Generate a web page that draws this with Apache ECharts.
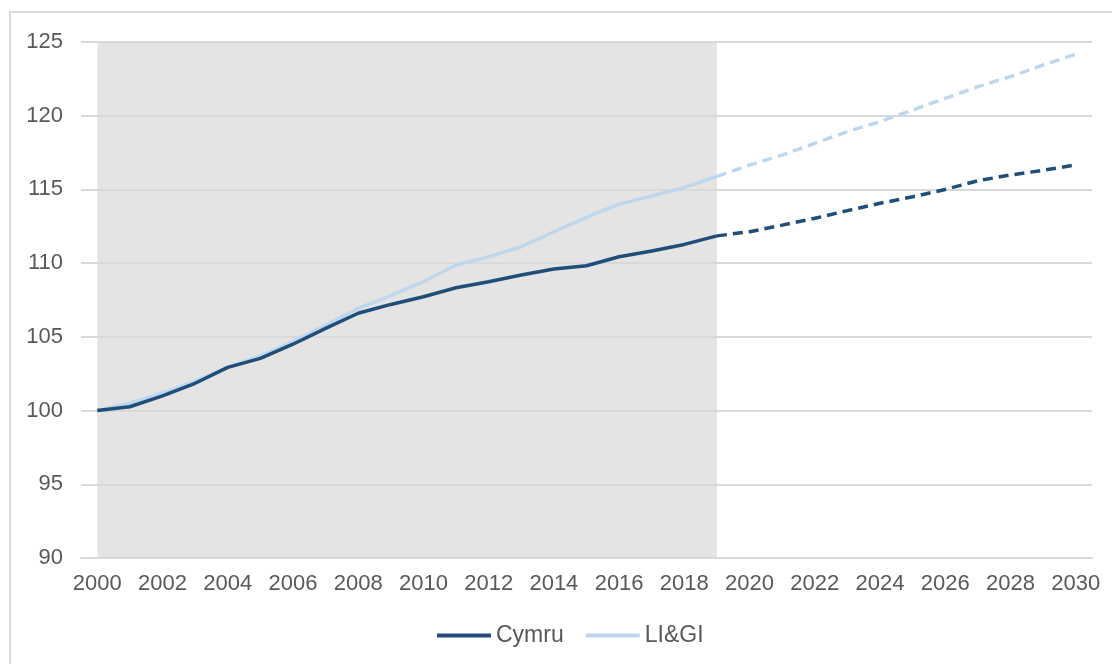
<!DOCTYPE html>
<html>
<head>
<meta charset="utf-8">
<script src="https://cdn.jsdelivr.net/npm/echarts@6/dist/echarts.min.js"></script>
<style>
html,body{margin:0;padding:0;background:#fff;}
#chart{width:1112px;height:664px;}
</style>
</head>
<body>
<div id="chart"></div>
<script>
var years = ['2000','2001','2002','2003','2004','2005','2006','2007','2008','2009','2010','2011','2012','2013','2014','2015','2016','2017','2018','2019','2020','2021','2022','2023','2024','2025','2026','2027','2028','2029','2030'];
var histYears = years.slice(0, 20);           // 2000-2019
var projYears = years.slice(19);              // 2019-2030
var cymruHist = [100.0, 100.26, 101.0, 101.85, 102.93, 103.54, 104.5, 105.58, 106.6, 107.2, 107.72, 108.33, 108.74, 109.19, 109.6, 109.82, 110.43, 110.82, 111.27, 111.85];
var ligiHist  = [100.0, 100.5, 101.2, 102.0, 102.93, 103.7, 104.7, 105.8, 106.93, 107.8, 108.74, 109.87, 110.43, 111.11, 112.13, 113.1, 114.0, 114.55, 115.14, 115.88];
var cymruProj = [111.85, 112.13, 112.58, 113.04, 113.56, 114.06, 114.5, 115.0, 115.59, 115.98, 116.3, 116.66];
var ligiProj  = [115.88, 116.66, 117.33, 118.13, 118.92, 119.6, 120.39, 121.18, 121.97, 122.65, 123.44, 124.17];
var yTicks = [90, 95, 100, 105, 110, 115, 120, 125];
var shadeRange = ['2000', '2019'];
var seriesNames = ['Cymru', 'LI&GI'];

function pad(arr, startYear) {
  var out = years.map(function () { return null; });
  var start = years.indexOf(startYear);
  arr.forEach(function (v, i) { out[start + i] = v; });
  return out;
}

var darkBlue = '#1f4e79';
var lightBlue = '#bdd7ee';
var textColor = '#595959';
var font = '"Liberation Sans", Arial, sans-serif';

var chart = echarts.init(document.getElementById('chart'), null, {renderer: 'canvas'});
chart.setOption({
  animation: false,
  backgroundColor: '#ffffff',
  textStyle: {fontFamily: font},
  graphic: [{
    type: 'rect',
    shape: {x: 10, y: 12, width: 1200, height: 800},
    style: {fill: 'none', stroke: '#d9d9d9', lineWidth: 2},
    silent: true,
    z: -10
  }],
  grid: {left: 81, right: 20, top: 42, bottom: 106, containLabel: false},
  legend: {
    data: seriesNames,
    bottom: 12,
    left: 432,
    icon: 'rect',
    itemWidth: 54,
    itemHeight: 4,
    itemGap: 22,
    textStyle: {color: textColor, fontSize: 23, fontFamily: font}
  },
  xAxis: {
    type: 'category',
    data: years,
    boundaryGap: true,
    axisTick: {show: false},
    axisLine: {show: true, lineStyle: {color: '#d9d9d9', width: 2}},
    axisLabel: {interval: 1, color: textColor, fontSize: 22, margin: 15, fontFamily: font},
    splitLine: {show: false}
  },
  yAxis: {
    type: 'value',
    min: yTicks[0],
    max: yTicks[yTicks.length - 1],
    interval: 5,
    z: 2,
    axisLine: {show: false},
    axisTick: {show: false},
    axisLabel: {color: textColor, fontSize: 22, margin: 18, fontFamily: font},
    splitLine: {show: true, lineStyle: {color: '#d9d9d9', width: 2}}
  },
  series: [
    {
      name: 'shade',
      type: 'line',
      z: 1,
      silent: true,
      symbol: 'none',
      data: years.map(function () { return null; }),
      markArea: {
        silent: true,
        itemStyle: {color: '#e4e4e4'},
        data: [[{xAxis: shadeRange[0]}, {xAxis: shadeRange[1]}]]
      }
    },
    {
      name: seriesNames[0],
      type: 'line',
      z: 4,
      symbol: 'none',
      color: darkBlue,
      lineStyle: {color: darkBlue, width: 3.5},
      data: pad(cymruHist, histYears[0])
    },
    {
      name: seriesNames[1],
      type: 'line',
      z: 3,
      symbol: 'none',
      color: lightBlue,
      lineStyle: {color: lightBlue, width: 3.5},
      data: pad(ligiHist, histYears[0])
    },
    {
      name: 'Cymru projection',
      type: 'line',
      z: 4,
      symbol: 'none',
      color: darkBlue,
      lineStyle: {color: darkBlue, width: 3.5, type: [10, 6]},
      data: pad(cymruProj, projYears[0])
    },
    {
      name: 'LI&GI projection',
      type: 'line',
      z: 3,
      symbol: 'none',
      color: lightBlue,
      lineStyle: {color: lightBlue, width: 3.5, type: [10, 6]},
      data: pad(ligiProj, projYears[0])
    }
  ]
});
</script>
</body>
</html>
